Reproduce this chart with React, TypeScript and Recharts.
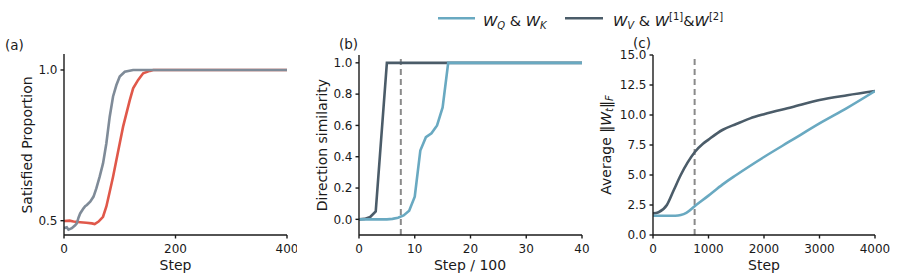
import { LineChart, Line, XAxis, YAxis, ReferenceLine } from 'recharts';

// (a) satisfied proportion
const cond1Steps = [0, 10, 17, 29, 40, 50, 55, 62, 70, 76, 82, 88, 94, 100, 106, 112, 118, 124, 133, 142, 154, 160, 400];
const cond1Values = [0.499, 0.5, 0.497, 0.495, 0.493, 0.491, 0.489, 0.497, 0.513, 0.547, 0.596, 0.646, 0.701, 0.757, 0.812, 0.856, 0.9, 0.939, 0.967, 0.989, 0.997, 1.0, 1.0];
const cond2Steps = [0, 5, 8, 14, 20, 23, 26, 29, 35, 38, 41, 47, 53, 58, 64, 70, 76, 82, 88, 94, 100, 109, 124, 400];
const cond2Values = [0.475, 0.478, 0.47, 0.475, 0.485, 0.491, 0.51, 0.524, 0.541, 0.548, 0.552, 0.563, 0.58, 0.607, 0.646, 0.69, 0.757, 0.845, 0.912, 0.95, 0.978, 0.994, 1.0, 1.0];
const aTicksX = [0, 200, 400];
const aTicksY = [0.5, 1.0];

// (b) direction similarity, step / 100
const vSimSteps = [0, 1, 2, 3, 5, 40];
const vSimValues = [0, 0.003, 0.015, 0.05, 1.0, 1.0];
const qkSimSteps = [0, 5, 6, 7, 8, 9, 10, 11, 12, 13, 14, 15, 16, 40];
const qkSimValues = [0, 0, 0.003, 0.01, 0.025, 0.055, 0.145, 0.44, 0.525, 0.55, 0.6, 0.715, 1.0, 1.0];
const bTicksX = [0, 10, 20, 30, 40];
const bTicksY = [0, 0.2, 0.4, 0.6, 0.8, 1.0];
const bMarker = 7.5;

// (c) average norm
const vNormSteps = [0, 100, 250, 375, 500, 625, 750, 900, 1000, 1250, 1500, 1750, 2000, 2500, 3000, 3500, 4000];
const vNormValues = [1.8, 1.9, 2.5, 3.75, 5.0, 6.05, 6.9, 7.6, 7.95, 8.75, 9.25, 9.72, 10.07, 10.65, 11.25, 11.65, 12.0];
const qkNormSteps = [0, 250, 400, 500, 600, 750, 1000, 1250, 1500, 2000, 2500, 3000, 3500, 4000];
const qkNormValues = [1.6, 1.6, 1.61, 1.67, 1.85, 2.4, 3.28, 4.2, 5.0, 6.5, 7.9, 9.3, 10.6, 12.0];
const cTicksX = [0, 1000, 2000, 3000, 4000];
const cTicksY = [0, 2.5, 5, 7.5, 10, 12.5, 15];
const cMarker = 750;

const RED = '#e0584a';
const GREY = '#7f8b98';
const LIGHT = '#69a9c1';
const DARK = '#4b5c69';
const AXIS = '#1a1a1a';

const zip = (xs: number[], ys: number[]) => xs.map((x, i) => ({ x, y: ys[i] }));

const tick = { fill: AXIS, fontSize: 12 };
const fmt1 = (v: number) => v.toFixed(1);

function Panel(props: {
  left: number;
  width: number;
  yWidth: number;
  top: number;
  right: number;
  xDomain: [number, number];
  yDomain: [number, number];
  xTicks: number[];
  yTicks: number[];
  marker?: number;
  lines: { data: { x: number; y: number }[]; color: string; type: 'linear' | 'monotone' }[];
}) {
  return (
    <div style={{ position: 'absolute', left: props.left, top: 0 }}>
      <LineChart
        width={props.width}
        height={277}
        margin={{ top: props.top, right: props.right, bottom: 0, left: 0 }}
      >
        <XAxis
          type="number"
          dataKey="x"
          domain={props.xDomain}
          ticks={props.xTicks}
          allowDataOverflow
          height={42}
          stroke={AXIS}
          strokeWidth={1.4}
          tickSize={3.5}
          tickMargin={6}
          tick={tick}
        />
        <YAxis
          type="number"
          dataKey="y"
          domain={props.yDomain}
          ticks={props.yTicks}
          allowDataOverflow
          width={props.yWidth}
          stroke={AXIS}
          strokeWidth={1.4}
          tickSize={3.5}
          tickMargin={3}
          tick={tick}
          tickFormatter={fmt1}
        />
        {props.marker !== undefined && (
          <ReferenceLine x={props.marker} stroke="#8a8a8a" strokeWidth={2} strokeDasharray="6 4" />
        )}
        {props.lines.map((l, i) => (
          <Line
            key={i}
            data={l.data}
            dataKey="y"
            type={l.type}
            stroke={l.color}
            strokeWidth={2.6}
            dot={false}
            isAnimationActive={false}
          />
        ))}
      </LineChart>
    </div>
  );
}

export default function App() {
  return (
    <div
      style={{
        position: 'absolute',
        left: 0,
        top: 0,
        width: 897,
        height: 277,
        background: '#fff',
        fontFamily: 'DejaVu Sans',
      }}
    >
      <Panel
        left={0}
        width={297}
        yWidth={64}
        top={54}
        right={10}
        xDomain={[0, 400]}
        yDomain={[0.4525, 1.053]}
        xTicks={aTicksX}
        yTicks={aTicksY}
        lines={[
          { data: zip(cond1Steps, cond1Values), color: RED, type: 'linear' },
          { data: zip(cond2Steps, cond2Values), color: GREY, type: 'linear' },
        ]}
      />
      <Panel
        left={300}
        width={292}
        yWidth={59}
        top={55}
        right={10}
        xDomain={[0, 40]}
        yDomain={[-0.1, 1.05]}
        xTicks={bTicksX}
        yTicks={bTicksY}
        marker={bMarker}
        lines={[
          { data: zip(vSimSteps, vSimValues), color: DARK, type: 'linear' },
          { data: zip(qkSimSteps, qkSimValues), color: LIGHT, type: 'linear' },
        ]}
      />
      <Panel
        left={600}
        width={297}
        yWidth={53}
        top={55}
        right={22}
        xDomain={[0, 4000]}
        yDomain={[0, 15]}
        xTicks={cTicksX}
        yTicks={cTicksY}
        marker={cMarker}
        lines={[
          { data: zip(vNormSteps, vNormValues), color: DARK, type: 'monotone' },
          { data: zip(qkNormSteps, qkNormValues), color: LIGHT, type: 'monotone' },
        ]}
      />
      <svg
        width={897}
        height={277}
        style={{ position: 'absolute', left: 0, top: 0, pointerEvents: 'none' }}
        fontFamily="DejaVu Sans"
        fill={AXIS}
      >
        {/* panel tags */}
        <text x={5} y={49.5} fontSize={13.5}>(a)</text>
        <text x={339} y={48.5} fontSize={13.5}>(b)</text>
        <text x={633} y={47.5} fontSize={13.5}>(c)</text>

        {/* x titles */}
        <text x={175.5} y={269.5} fontSize={14} textAnchor="middle">Step</text>
        <text x={470} y={269.5} fontSize={14} textAnchor="middle">Step / 100</text>
        <text x={764} y={269.5} fontSize={14} textAnchor="middle">Step</text>

        {/* y titles */}
        <text x={27} y={145} fontSize={14} textAnchor="middle" dominantBaseline="central" transform="rotate(-90 27 145)">
          Satisfied Proportion
        </text>
        <text x={322} y={145} fontSize={14} textAnchor="middle" dominantBaseline="central" transform="rotate(-90 322 145)">
          Direction similarity
        </text>
        <text x={606} y={145} fontSize={14} textAnchor="middle" dominantBaseline="central" transform="rotate(-90 606 145)">
          <tspan>Average ‖</tspan>
          <tspan fontStyle="italic">W</tspan>
          <tspan fontStyle="italic" fontSize={10} dy={3}>t</tspan>
          <tspan dy={-3}>‖</tspan>
          <tspan fontStyle="italic" fontSize={10} dy={3}>F</tspan>
        </text>

        {/* legend for (b) and (c) */}
        <line x1={438} x2={475} y1={18.3} y2={18.3} stroke={LIGHT} strokeWidth={2.6} />
        <text x={483} y={25.5} fontSize={14.5}>
          <tspan fontStyle="italic">W</tspan>
          <tspan fontStyle="italic" fontSize={10} dy={3}>Q</tspan>
          <tspan dy={-3}> &amp; </tspan>
          <tspan fontStyle="italic">W</tspan>
          <tspan fontStyle="italic" fontSize={10} dy={3}>K</tspan>
        </text>
        <line x1={565} x2={603} y1={18.3} y2={18.3} stroke={DARK} strokeWidth={2.6} />
        <text x={613} y={25.5} fontSize={14.5}>
          <tspan fontStyle="italic">W</tspan>
          <tspan fontStyle="italic" fontSize={10} dy={3}>V</tspan>
          <tspan dy={-3}> &amp; </tspan>
          <tspan fontStyle="italic">W</tspan>
          <tspan fontSize={10} dy={-6}>[1]</tspan>
          <tspan dy={6}>&amp;</tspan>
          <tspan fontStyle="italic">W</tspan>
          <tspan fontSize={10} dy={-6}>[2]</tspan>
        </text>
      </svg>
    </div>
  );
}
